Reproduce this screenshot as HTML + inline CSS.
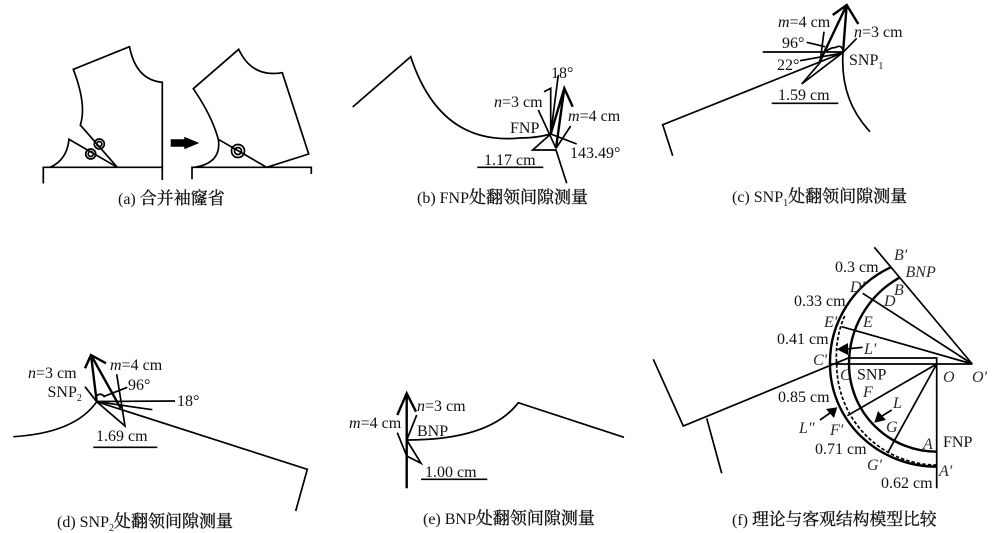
<!DOCTYPE html>
<html><head><meta charset="utf-8">
<style>
html,body{margin:0;padding:0;background:#fff;width:1000px;height:533px;overflow:hidden}
svg{display:block;filter:blur(0.35px)}
text{font-family:"Liberation Serif","Noto Serif CJK SC",serif;font-size:16px;fill:#111}
.i{font-style:italic}
text.i{fill:#2a2a2a}
.s{font-size:10px}
.c{font-size:17px;stroke:#111;stroke-width:.3}
path,line,polyline,circle{fill:none;stroke:#000;stroke-width:1.7;stroke-linejoin:miter}
.t{stroke-width:2.4}
.f{fill:#000;stroke:none}
</style></head><body>
<svg width="1000" height="533" viewBox="0 0 1000 533" xmlns="http://www.w3.org/2000/svg">
<!-- a -->
<path d="M43.3 183.5V167.3H162.3M162.3 180V82.3Q136 80 129.5 46.7L73.3 69.3Q87 105 80.3 125L117.3 167.3L69 139.3Q67 160 50 167.3"/>
<circle cx="99.3" cy="144" r="5"/><circle cx="99.3" cy="144" r="2.5"/>
<circle cx="90.7" cy="154" r="5"/><circle cx="90.7" cy="154" r="2.5"/>
<path class="f" d="M170.7 139.3H184.3V136.7L199.3 143L184.3 149.3V146.7H170.7Z"/>
<path d="M192 179.3V167.3H311.3V174M194.3 167.3Q222 163 218.3 139.3Q212 116 193.3 88.7L238.7 49.3Q252 78 282.3 72.7L308.7 154L266.7 167.3L218.3 139.3"/>
<circle cx="238" cy="151" r="6.5" stroke-width="1.8"/><circle cx="238" cy="151" r="3.5"/>
<text x="118" y="204">(a) <tspan class="c">合并袖窿省</tspan></text>
<!-- b -->
<path d="M352.7 107L410.7 56.7Q440 146 520 138Q537 138 550.7 134"/>
<path d="M572.7 106.7L564.3 88.3L550.7 134M564.3 88.3L556 148.3" class="t"/>
<path d="M544 91.7L550.7 88.3V134M558.3 75L550.7 134M538.3 110L556 148.3M570.7 126L556 148.3M576.7 144L550.7 134L532.7 150H556L566.7 183.3"/>
<line x1="477.3" y1="167.3" x2="543.3" y2="167.3" stroke-width="1.8"/>
<text x="551" y="78">18°</text>
<text x="494" y="107"><tspan class="i">n</tspan>=3 cm</text>
<text x="568" y="121"><tspan class="i">m</tspan>=4 cm</text>
<text x="510" y="133">FNP</text>
<text x="570" y="158">143.49°</text>
<text x="484" y="165">1.17 cm</text>
<text x="417" y="203">(b) FNP<tspan class="c">处翻领间隙测量</tspan></text>
<!-- c -->
<path d="M672.7 155.7L662.7 124.7L843 52.7Q840 100 870 131.7"/>
<path class="t" d="M858.3 24L846.7 5L832.7 15M846.7 5L819.3 62.7M846.7 5L843 52.7"/>
<path d="M762.7 52H842.7M824 31.7L820 62.7L801.7 84L842.7 52.7M856.7 38.3L842.7 52.7M806.7 42.3L825 46.7M800 60.7L842.7 53M825 51.7Q832 47 835 47.7Q841 44 843 50"/>
<line x1="771.7" y1="103.3" x2="838.3" y2="103.3" stroke-width="1.8"/>
<text x="778" y="27"><tspan class="i">m</tspan>=4 cm</text>
<text x="854" y="37"><tspan class="i">n</tspan>=3 cm</text>
<text x="782" y="48">96°</text>
<text x="777" y="70">22°</text>
<text x="849" y="65">SNP<tspan class="s" dy="4">1</tspan></text>
<text x="778" y="100">1.59 cm</text>
<text x="732" y="202">(c) SNP<tspan class="s" dy="4">1</tspan><tspan class="c" dy="-4">处翻领间隙测量</tspan></text>
<!-- d -->
<path d="M13.3 436.7Q75 433 96.7 401.7L307.3 469.3L295.7 511"/>
<path class="t" d="M85 368.3L91 355L106 363.3M91 355L96.7 401.7M91 355L120.7 408.3"/>
<path d="M116.7 374.3L125 426L96.7 401.7M85 386.7L96.7 401.7M96.7 401.5L175 401M96.7 401.7L152.3 409.7M103.3 396.7L127.3 387.3M96.7 396Q100 392 105 397"/>
<line x1="93.3" y1="447.3" x2="157.3" y2="447.3" stroke-width="1.8"/>
<text x="28" y="378"><tspan class="i">n</tspan>=3 cm</text>
<text x="110" y="370"><tspan class="i">m</tspan>=4 cm</text>
<text x="47.5" y="397">SNP<tspan class="s" dy="4">2</tspan></text>
<text x="128" y="390">96°</text>
<text x="177" y="406">18°</text>
<text x="96" y="441">1.69 cm</text>
<text x="57" y="527">(d) SNP<tspan class="s" dy="4">2</tspan><tspan class="c" dy="-4">处翻领间隙测量</tspan></text>
<!-- e -->
<path class="t" d="M406.7 393.3V488.3M397.3 415L406.7 393.3L416 411.7"/>
<path d="M416.7 415L406.7 440L421 463.3L406.7 456L397.3 432.7M406.7 440Q490 440 518.3 402.7L624 437.3"/>
<line x1="421" y1="479.3" x2="487.3" y2="479.3" stroke-width="1.8"/>
<text x="417" y="411"><tspan class="i">n</tspan>=3 cm</text>
<text x="349" y="428"><tspan class="i">m</tspan>=4 cm</text>
<text x="417" y="436">BNP</text>
<text x="425" y="477">1.00 cm</text>
<text x="423" y="524">(e) BNP<tspan class="c">处翻领间隙测量</tspan></text>
<!-- f -->
<path d="M653.3 359.3L683.3 426L850 357.3M706.7 418.3L721.7 473.3M830 364H972.3M850 358H936.7V488.3M874.3 247.3L972.3 364L862.7 293.3M972.3 364L841.7 326.7M936.7 364L847.3 415.7M936.7 364L888.3 451.7"/>
<path class="t" d="M936.7 451.7A87.7 87.7 0 0 1 849 364A99 99 0 0 1 899.3 277.7"/>
<path class="t" d="M936.7 466.7A106.7 102.7 0 0 1 830 364A105 105 0 0 1 890.7 267.3"/>
<path stroke-dasharray="3.5 2" d="M936.7 465A100 101 0 0 1 836.7 364A100 100 0 0 1 845 315"/>
<path class="f" d="M836.7 349.3L848 343V355Z"/><line x1="846" y1="349" x2="862.7" y2="347.3"/>
<path class="f" d="M837.3 407.3L826 409L834 418Z"/><line x1="830" y1="413" x2="820" y2="420"/>
<path class="f" d="M874.3 422.7L878 411L886 420Z"/><line x1="882" y1="416" x2="891.7" y2="410"/>
<g>
<text class="i" x="894" y="260">B′</text>
<text class="i" x="905.5" y="277">BNP</text>
<text x="835" y="272">0.3 cm</text>
<text class="i" x="850" y="292">D′</text>
<text class="i" x="894" y="295">B</text>
<text class="i" x="884" y="306">D</text>
<text x="794" y="306">0.33 cm</text>
<text class="i" x="824" y="327">E′</text>
<text class="i" x="863" y="327">E</text>
<text x="777" y="344">0.41 cm</text>
<text class="i" x="864" y="354">L′</text>
<text class="i" x="813" y="365">C′</text>
<text class="i" x="840" y="380">C</text>
<text x="857" y="379.5">SNP</text>
<text class="i" x="943" y="382">O</text>
<text class="i" x="972" y="382">O′</text>
<text class="i" x="863" y="397">F</text>
<text x="778" y="402">0.85 cm</text>
<text class="i" x="893" y="408">L</text>
<text class="i" x="799" y="433">L″</text>
<text class="i" x="830" y="435">F′</text>
<text class="i" x="886" y="432">G</text>
<text class="i" x="923" y="449">A</text>
<text x="943" y="447">FNP</text>
<text x="815" y="454">0.71 cm</text>
<text class="i" x="867" y="470">G′</text>
<text class="i" x="939" y="476">A′</text>
<text x="881" y="488">0.62 cm</text>
</g>
<text x="732" y="525">(f) <tspan class="c" style="font-size:16.8px">理论与客观结构模型比较</tspan></text>
</svg>
</body></html>
